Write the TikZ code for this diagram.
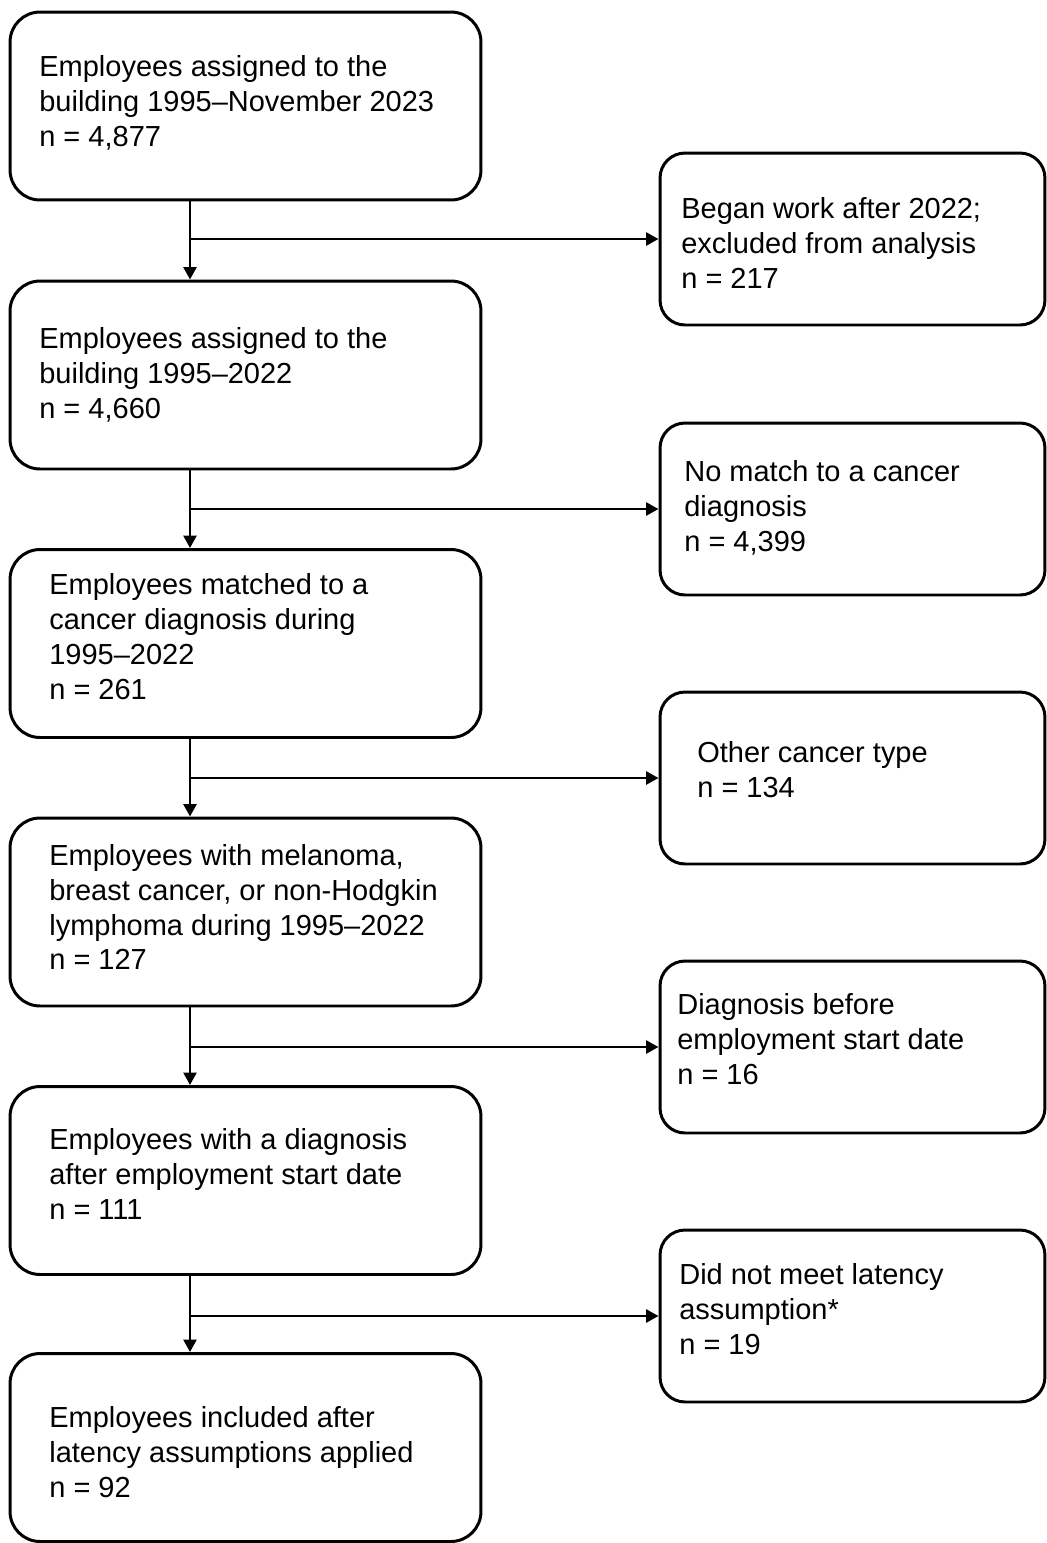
\documentclass[tikz,border=0pt]{standalone}
\usepackage{fontspec}
\setmainfont{Liberation Sans}
\usetikzlibrary{arrows.meta}

\begin{document}
\begin{tikzpicture}[x=0.02cm, y=-0.02cm,
        stagebox/.style={draw, line width=1.7pt, rounded corners=0.6cm, minimum width=9.42cm, minimum height=3.76cm, inner sep=0pt},
        exclbox/.style={draw, line width=1.7pt, rounded corners=0.5cm, minimum width=7.7cm, minimum height=3.44cm, inner sep=0pt},
        boxtext/.style={anchor=west, align=left, inner sep=0pt, font=\fontsize{16.5}{19.9}\selectfont},
        flow/.style={line width=1.5pt, -{Triangle[length=0.25cm, width=0.26cm]}}]
        \useasboundingbox (0,0) rectangle (1047,1543);
        % main stages
        \node [stagebox] (s1) at (245.5,106) {};
        \node [stagebox] (s2) at (245.5,375) {};
        \node [stagebox] (s3) at (245.5,643.5) {};
        \node [stagebox] (s4) at (245.5,912) {};
        \node [stagebox] (s5) at (245.5,1180.5) {};
        \node [stagebox] (s6) at (245.5,1447.5) {};
        % exclusions
        \node [exclbox] (r1) at (852.5,239) {};
        \node [exclbox] (r2) at (852.5,509) {};
        \node [exclbox] (r3) at (852.5,778) {};
        \node [exclbox] (r4) at (852.5,1047) {};
        \node [exclbox] (r5) at (852.5,1316) {};
        % texts
        \node [boxtext] (s1t) at (39,103) {Employees assigned to the\\building 1995--November 2023\\n = 4,877};
        \node [boxtext] (s2t) at (39,375) {Employees assigned to the\\building 1995--2022\\n = 4,660};
        \node [boxtext] (s3t) at (49,637) {Employees matched to a\\cancer diagnosis during\\1995--2022\\n = 261};
        \node [boxtext] (s4t) at (49,907) {Employees with melanoma,\\breast cancer, or non-Hodgkin\\lymphoma during 1995--2022\\n = 127};
        \node [boxtext] (s5t) at (49,1174) {Employees with a diagnosis\\after employment start date\\n = 111};
        \node [boxtext] (s6t) at (49,1452) {Employees included after\\latency assumptions applied\\n = 92};
        \node [boxtext] (r1t) at (681,243) {Began work after 2022;\\excluded from analysis\\n = 217};
        \node [boxtext] (r2t) at (684,508) {No match to a cancer\\diagnosis\\n = 4,399};
        \node [boxtext] (r3t) at (697,770) {Other cancer type\\n = 134};
        \node [boxtext] (r4t) at (677,1039) {Diagnosis before\\employment start date\\n = 16};
        \node [boxtext] (r5t) at (679,1309) {Did not meet latency\\assumption*\\n = 19};
        % connectors
        \foreach \a/\b/\r [count=\i] in {s1/s2/r1, s2/s3/r2, s3/s4/r3, s4/s5/r4, s5/s6/r5} {
            \coordinate (j\i) at (190,0 |- \r.west);
            \draw [flow] (j\i |- \a.south) -- (j\i |- \b.north);
            \draw [flow] (j\i) -- (\r.west);
        }
    \end{tikzpicture}
\end{document}
